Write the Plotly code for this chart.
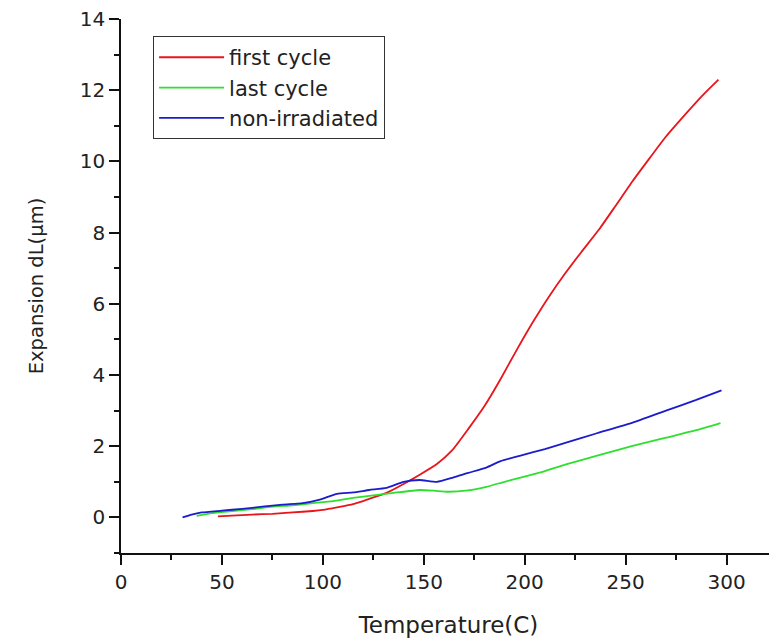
import plotly.graph_objects as go

# ---- data ----
first_x = [48, 55, 65, 75, 85, 95, 100, 107, 115, 123, 131.5, 140, 148, 156.5, 164, 172, 180, 188, 196, 204, 212, 220, 228, 237, 245, 253.5, 262, 270, 280, 288, 296]
first_y = [0.03, 0.05, 0.08, 0.10, 0.14, 0.18, 0.21, 0.28, 0.37, 0.52, 0.69, 0.94, 1.20, 1.50, 1.88, 2.48, 3.12, 3.88, 4.70, 5.48, 6.20, 6.85, 7.45, 8.10, 8.75, 9.45, 10.10, 10.70, 11.35, 11.85, 12.30]

last_x = [37.5, 45, 55, 65, 75, 85, 95, 105, 115, 125, 135, 148, 155, 162, 172, 181, 190, 198, 210, 220, 235, 253, 270, 285, 297]
last_y = [0.04, 0.12, 0.18, 0.23, 0.30, 0.34, 0.40, 0.46, 0.55, 0.62, 0.69, 0.77, 0.75, 0.72, 0.76, 0.86, 1.00, 1.12, 1.30, 1.48, 1.72, 2.00, 2.24, 2.45, 2.65]

nonirr_x = [30.5, 35, 40, 50, 60, 70, 80, 90, 98.5, 107, 115, 123, 131.5, 140, 148, 156.5, 164.5, 172, 181, 188, 197.5, 210, 220.5, 235, 253.5, 270, 285, 297.5]
nonirr_y = [0.00, 0.08, 0.14, 0.19, 0.24, 0.30, 0.36, 0.40, 0.50, 0.66, 0.70, 0.77, 0.83, 1.00, 1.05, 1.00, 1.12, 1.25, 1.40, 1.58, 1.73, 1.92, 2.10, 2.35, 2.66, 3.00, 3.30, 3.57]

series_names = ["first cycle", "last cycle", "non-irradiated"]
series_colors = ["#e8151b", "#2ee02e", "#1c1ccc"]

x_title = "Temperature(C)"
y_title = "Expansion dL(μm)"

WIDE = "DejaVu Sans, Verdana, sans-serif"

fig = go.Figure()
for name, xs, ys, col in zip(series_names,
                              [first_x, last_x, nonirr_x],
                              [first_y, last_y, nonirr_y],
                              series_colors):
    fig.add_trace(go.Scatter(x=xs, y=ys, mode="lines", name=name, legendgroup=name,
                             line=dict(color=col, width=1.8, shape="spline", smoothing=0.5)))

axis_common = dict(
    showline=True, linecolor="#111", linewidth=1.5,
    ticks="outside", ticklen=10, tickwidth=1.5, tickcolor="#111",
    showgrid=False, zeroline=False, automargin=False,
    ticklabeloverflow="allow",
    tickfont=dict(family=WIDE, size=20, color="#222"),
)
minor_common = dict(ticks="outside", ticklen=5, tickwidth=1.5, tickcolor="#111")

fig.update_xaxes(range=[0, 324.5], tick0=0, dtick=50,
                 minor=dict(dtick=25, tick0=0, **minor_common),
                 title=dict(text=x_title, standoff=24, font=dict(family=WIDE, size=23, color="#222")),
                 **axis_common)
fig.update_yaxes(range=[-1, 14], tick0=0, dtick=2,
                 minor=dict(dtick=1, tick0=0, **minor_common),
                 title=dict(text=y_title, standoff=31, font=dict(family=WIDE, size=19.5, color="#222")),
                 **axis_common)

fig.update_layout(
    width=769, height=633,
    margin=dict(l=113, r=1, t=11, b=88),
    plot_bgcolor="white", paper_bgcolor="white",
    showlegend=True,
    legend=dict(x=0.049, y=0.968, xanchor="left", yanchor="top",
                bordercolor="#333", borderwidth=1, bgcolor="white",
                font=dict(family=WIDE, size=21, color="#222"),
                itemwidth=65, tracegroupgap=0, traceorder="grouped"),
)

fig.write_html("out.html")
